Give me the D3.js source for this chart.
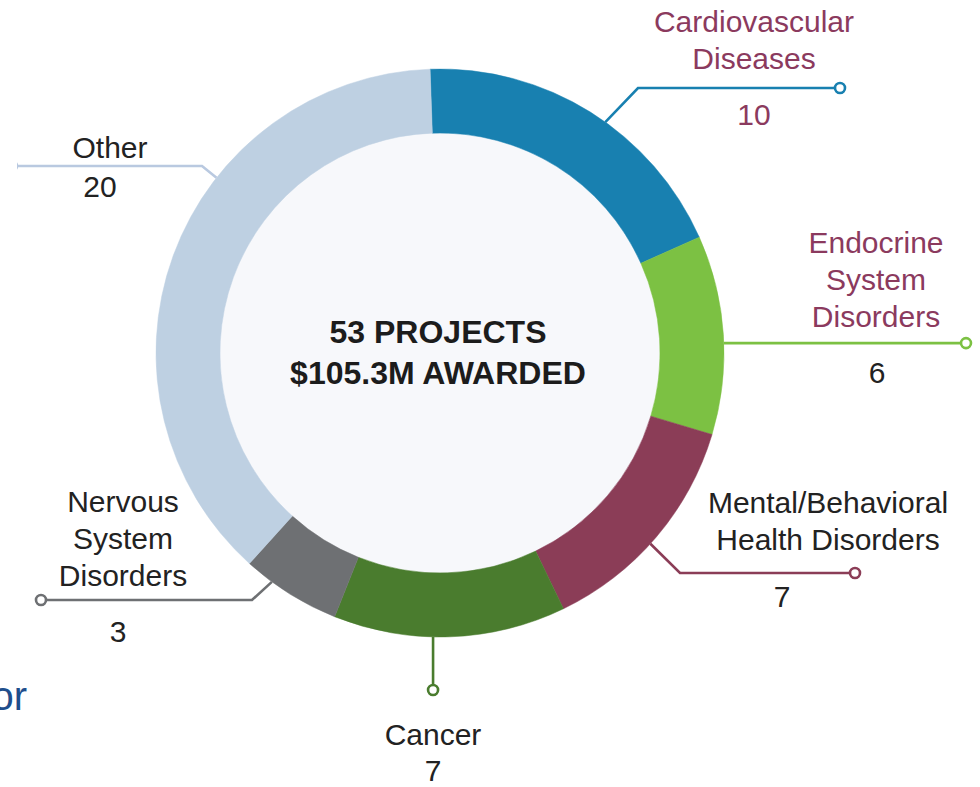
<!DOCTYPE html>
<html>
<head>
<meta charset="utf-8">
<script src="https://cdn.jsdelivr.net/npm/d3@7"></script>
<style>
  html, body { margin: 0; padding: 0; background: #ffffff; }
  svg { display: block; }
  text { font-family: "Liberation Sans", Arial, sans-serif; }
</style>
</head>
<body>
<svg id="chart" width="980" height="787"></svg>
<script>
// ---- data ----
const categories = ["Cardiovascular Diseases", "Endocrine System Disorders", "Mental/Behavioral Health Disorders", "Cancer", "Nervous System Disorders", "Other"];
const labelLines = [["Cardiovascular", "Diseases"], ["Endocrine", "System", "Disorders"], ["Mental/Behavioral", "Health Disorders"], ["Cancer"], ["Nervous", "System", "Disorders"], ["Other"]];
const values = [10, 6, 7, 7, 3, 20];
const centerLines = ["53 PROJECTS", "$105.3M AWARDED"];
const fragmentText = "or";

// ---- styles / layout ----
const colors = ["#1880b0", "#7cc143", "#8b3d57", "#4a7c2e", "#6e7073", "#bed0e2"];
const lineColors = ["#1880b0", "#7cc143", "#8b3d57", "#4a7c2e", "#6e7073", "#b9c9e0"];
const nameColors = ["#8b3a5e", "#8b3a5e", "#222222", "#222222", "#222222", "#222222"];
const numColors = ["#8b3a5e", "#222222", "#222222", "#222222", "#222222", "#222222"];
const cx = 440, cy = 353, rOuter = 284, rInner = 220;
const startDeg = -2;
// leader: start angle on the ring (deg), elbow point, end x
const leaders = [
  { a: 35.6, elbow: [638, 88], endX: 840 },
  { a: 88.0, elbow: null, endX: 966 },
  { a: 132.2, elbow: [680, 573], endX: 855 },
  { a: 181.4, vertical: true, endY: 690 },
  { a: 216.3, elbow: [252, 600], endX: 41 },
  { a: 308.1, elbow: [202, 166], endX: 12 }
];
const labelPos = [
  { x: 754, y: 32, nx: 754, ny: 125 },
  { x: 876, y: 253, nx: 877, ny: 383 },
  { x: 828, y: 513, nx: 782, ny: 607 },
  { x: 433, y: 745, nx: 433, ny: 781 },
  { x: 123, y: 512, nx: 118, ny: 642 },
  { x: 110, y: 158, nx: 100, ny: 197 }
];
const lineGap = 37;

const svg = d3.select("#chart");
svg.append("defs").append("clipPath").attr("id", "leftclip")
  .append("rect").attr("x", 17).attr("y", 0).attr("width", 980).attr("height", 787);

const g = svg.append("g").attr("transform", `translate(${cx},${cy})`);

// inner disc
g.append("circle").attr("r", rInner).attr("fill", "#f7f8fb");

const toRad = d => d * Math.PI / 180;
const pie = d3.pie().sort(null).value(d => d)
  .startAngle(toRad(startDeg)).endAngle(toRad(startDeg) + 2 * Math.PI);
const arc = d3.arc().innerRadius(rInner).outerRadius(rOuter);
const arcs = pie(values);

g.selectAll("path.slice").data(arcs).enter().append("path")
  .attr("class", "slice")
  .attr("d", arc)
  .attr("fill", (d, i) => colors[i])
  .attr("stroke", (d, i) => colors[i])
  .attr("stroke-width", 0.5);

// leader lines
const ringPoint = deg => [cx + rOuter * Math.sin(toRad(deg)), cy - rOuter * Math.cos(toRad(deg))];
const lg = svg.append("g");
leaders.forEach((L, i) => {
  const s = ringPoint(L.a);
  let pts, endPt;
  if (L.vertical) {
    pts = [[s[0], s[1]], [s[0], L.endY]];
    endPt = [s[0], L.endY];
  } else if (L.elbow) {
    pts = [s, L.elbow, [L.endX, L.elbow[1]]];
    endPt = [L.endX, L.elbow[1]];
  } else {
    pts = [s, [L.endX, s[1]]];
    endPt = [L.endX, s[1]];
  }
  const gg = lg.append("g");
  if (i === 5) gg.attr("clip-path", "url(#leftclip)");
  gg.append("path")
    .attr("d", d3.line()(pts))
    .attr("fill", "none")
    .attr("stroke", lineColors[i])
    .attr("stroke-width", 2.6);
  gg.append("circle")
    .attr("cx", endPt[0]).attr("cy", endPt[1]).attr("r", 5)
    .attr("fill", "#ffffff")
    .attr("stroke", lineColors[i])
    .attr("stroke-width", 2.6);
});

// labels
const tg = svg.append("g");
labelLines.forEach((lines, i) => {
  const p = labelPos[i];
  lines.forEach((ln, k) => {
    tg.append("text")
      .attr("x", p.x).attr("y", p.y + k * lineGap)
      .attr("text-anchor", "middle")
      .attr("font-size", 30)
      .attr("fill", nameColors[i])
      .text(ln);
  });
  tg.append("text")
    .attr("x", p.nx).attr("y", p.ny)
    .attr("text-anchor", "middle")
    .attr("font-size", 30)
    .attr("fill", numColors[i])
    .text(values[i]);
});

// center text
centerLines.forEach((t, k) => {
  svg.append("text")
    .attr("x", 438).attr("y", 343 + k * 41)
    .attr("text-anchor", "middle")
    .attr("font-size", 32)
    .attr("font-weight", "bold")
    .attr("fill", "#1c1c1c")
    .text(t);
});

// cut-off fragment at left edge
svg.append("text")
  .attr("x", 27).attr("y", 710)
  .attr("text-anchor", "end")
  .attr("font-size", 40)
  .attr("fill", "#1f4e8c")
  .text(fragmentText);
</script>
</body>
</html>
